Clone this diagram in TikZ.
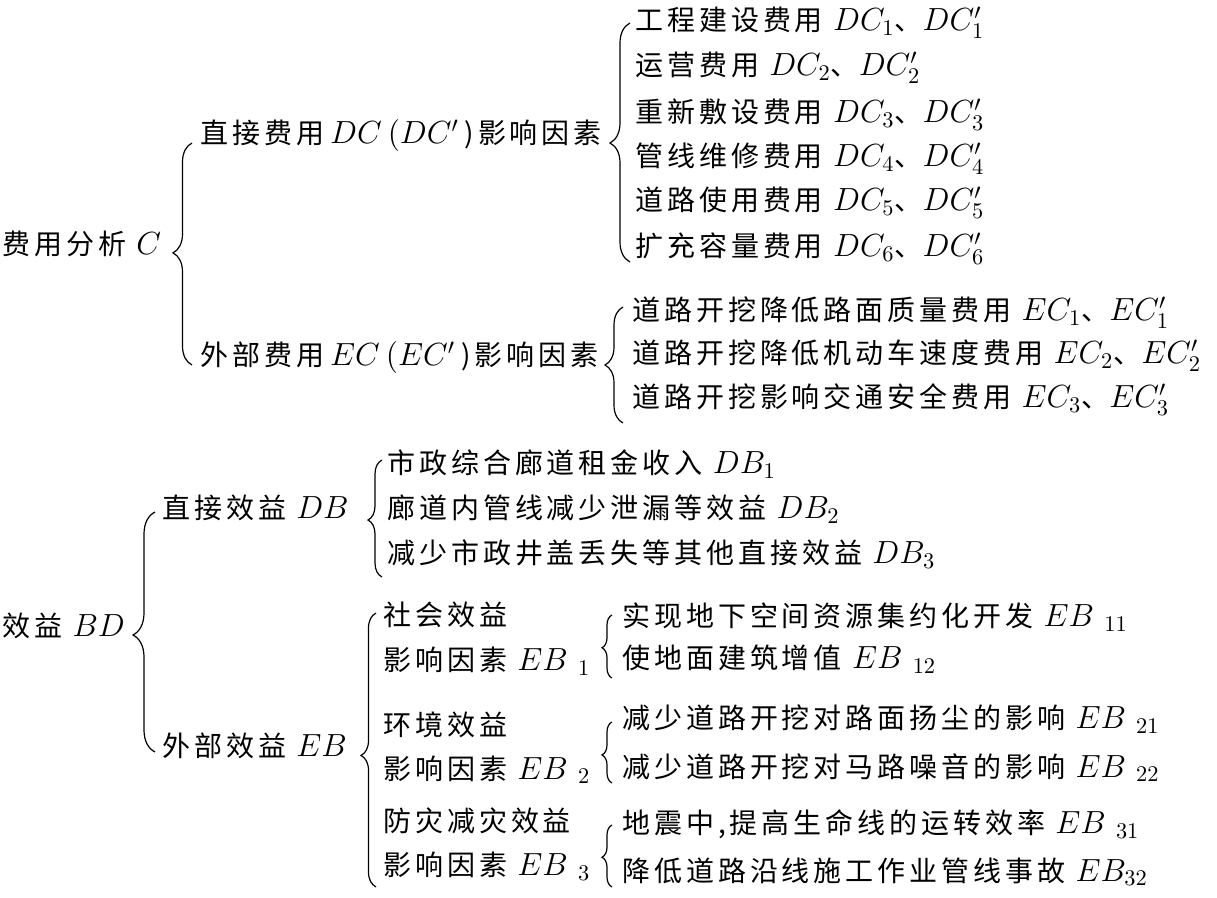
\RequirePackage{fix-cm}
\documentclass[tikz,border=0pt]{standalone}
\usepackage{fontspec}
\newfontfamily\cjk[Scale=0.875,LetterSpace=14]{Noto Sans CJK SC}
\usetikzlibrary{decorations.pathreplacing}
\tikzset{
  lbl/.style={anchor=base west, inner sep=0pt, font=\fontsize{16}{20}\selectfont\cjk},
  brc/.style n args={2}{decorate, line width=0.6pt, decoration={brace, amplitude=#1, aspect=#2}}
}
\newcommand{\gp}{\hspace{3pt}}
\begin{document}
\begin{tikzpicture}[x=0.5pt,y=-0.5pt]
\useasboundingbox (0,0) rectangle (1217,898);
% cost part
\node[lbl] (c) at (2,255) {费用分析 $C$};
\node[lbl] (dc) at (200,144) {直接费用\gp$DC$\gp$(DC'$\gp)影响因素};
\node[lbl] (ec) at (200,366) {外部费用\gp$EC$\gp$(EC'$\gp)影响因素};
\node[lbl] (dc1) at (635,31) {工程建设费用 $DC_1$、$DC_1'$};
\node[lbl] (dc2) at (635,76) {运营费用 $DC_2$、$DC_2'$};
\node[lbl] (dc3) at (635,123) {重新敷设费用 $DC_3$、$DC_3'$};
\node[lbl] (dc4) at (635,167) {管线维修费用 $DC_4$、$DC_4'$};
\node[lbl] (dc5) at (635,211) {道路使用费用 $DC_5$、$DC_5'$};
\node[lbl] (dc6) at (635,257) {扩充容量费用 $DC_6$、$DC_6'$};
\node[lbl] (ec1) at (632,321) {道路开挖降低路面质量费用 $EC_1$、$EC_1'$};
\node[lbl] (ec2) at (632,364) {道路开挖降低机动车速度费用 $EC_2$、$EC_2'$};
\node[lbl] (ec3) at (632,408) {道路开挖影响交通安全费用 $EC_3$、$EC_3'$};
% benefit part
\node[lbl] (bd) at (2,637) {效益 $BD$};
\node[lbl] (db) at (162,519) {直接效益 $DB$};
\node[lbl] (eb) at (162,756) {外部效益 $EB$};
\node[lbl] (db1) at (387,474) {市政综合廊道租金收入 $DB_1$};
\node[lbl] (db2) at (387,519) {廊道内管线减少泄漏等效益 $DB_2$};
\node[lbl] (db3) at (387,564) {减少市政井盖丢失等其他直接效益 $DB_3$};
\node[lbl] (s1a) at (383,626) {社会效益};
\node[lbl] (s1b) at (383,671) {影响因素 $EB\ _1$};
\node[lbl] (s2a) at (383,736) {环境效益};
\node[lbl] (s2b) at (383,779) {影响因素 $EB\ _2$};
\node[lbl] (s3a) at (383,832) {防灾减灾效益};
\node[lbl] (s3b) at (383,876) {影响因素 $EB\ _3$};
\node[lbl] (e11) at (622,627) {实现地下空间资源集约化开发 $EB\ _{11}$};
\node[lbl] (e12) at (622,669) {使地面建筑增值 $EB\ _{12}$};
\node[lbl] (e21) at (622,729) {减少道路开挖对路面扬尘的影响 $EB\ _{21}$};
\node[lbl] (e22) at (622,777) {减少道路开挖对马路噪音的影响 $EB\ _{22}$};
\node[lbl] (e31) at (622,834) {地震中,提高生命线的运转效率 $EB\ _{31}$};
\node[lbl] (e32) at (622,881) {降低道路沿线施工作业管线事故 $EB_{32}$};
% brace end points
\coordinate (b1s) at (192,365); \coordinate (b1e) at (192,143);
\coordinate (b2s) at (630,262); \coordinate (b2e) at (630,23);
\coordinate (b3s) at (623,423); \coordinate (b3e) at (623,307);
\coordinate (b4s) at (155,752); \coordinate (b4e) at (155,512);
\coordinate (b5s) at (382,577); \coordinate (b5e) at (382,460);
\coordinate (b6s) at (376,887); \coordinate (b6e) at (376,613);
\coordinate (b7s) at (612,678); \coordinate (b7e) at (612,615);
\coordinate (b8s) at (612,783); \coordinate (b8e) at (612,722);
\coordinate (b9s) at (612,887); \coordinate (b9e) at (612,825);
\draw[brc={9.5pt}{0.505}] (b1s) -- (b1e);
\draw[brc={10pt}{0.498}] (b2s) -- (b2e);
\draw[brc={9pt}{0.5}] (b3s) -- (b3e);
\draw[brc={11pt}{0.4875}] (b4s) -- (b4e);
\draw[brc={7pt}{0.487}] (b5s) -- (b5e);
\draw[brc={7.5pt}{0.48}] (b6s) -- (b6e);
\draw[brc={5pt}{0.48}] (b7s) -- (b7e);
\draw[brc={5pt}{0.46}] (b8s) -- (b8e);
\draw[brc={5pt}{0.48}] (b9s) -- (b9e);
\end{tikzpicture}
\end{document}
